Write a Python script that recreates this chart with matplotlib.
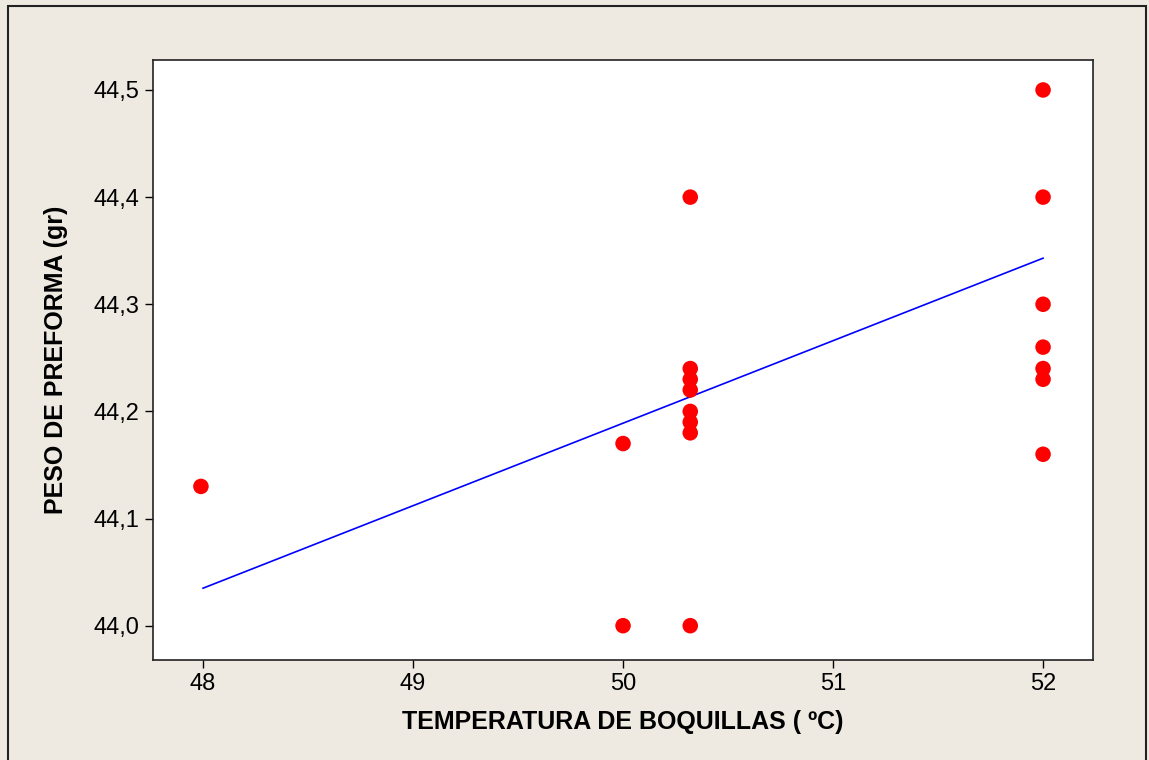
import matplotlib
matplotlib.use('Agg')
import matplotlib.pyplot as plt
from matplotlib.patches import Rectangle

# Data
temp = [47.99,
        50.0, 50.0,
        50.32, 50.32, 50.32, 50.32, 50.32, 50.32, 50.32, 50.32,
        52.0, 52.0, 52.0, 52.0, 52.0, 52.0, 52.0]
peso = [44.13,
        44.17, 44.00,
        44.40, 44.24, 44.23, 44.22, 44.20, 44.19, 44.18, 44.00,
        44.50, 44.40, 44.30, 44.26, 44.24, 44.23, 44.16]

# fitted line as drawn in the original (endpoints)
fit_x = [48.0, 52.0]
fit_y = [44.035, 44.343]

x_ticks = [48, 49, 50, 51, 52]
y_ticks = [44.0, 44.1, 44.2, 44.3, 44.4, 44.5]
y_ticklabels = ['44,0', '44,1', '44,2', '44,3', '44,4', '44,5']

bg = '#EEEAE1'
plt.rcParams['font.family'] = ['Liberation Sans', 'DejaVu Sans']

fig = plt.figure(figsize=(11.49, 7.60), dpi=100, facecolor=bg)
ax = fig.add_axes([0.1332, 0.1316, 0.8181, 0.7895])
ax.set_facecolor('white')

ax.plot(fit_x, fit_y, color='#0000FF', linewidth=1.2, zorder=2)
ax.scatter(temp, peso, s=125, color='#FF0000', edgecolors='none', zorder=3)

ax.set_xlim(47.762, 52.238)
ax.set_ylim(43.968, 44.528)
ax.set_xticks(x_ticks)
ax.set_yticks(y_ticks)
ax.set_yticklabels(y_ticklabels)
ax.tick_params(direction='out', length=6, width=1, labelsize=17, color='black')
ax.tick_params(axis='y', pad=4)

for s in ax.spines.values():
    s.set_linewidth(1.2)
    s.set_color('#222222')

ax.set_xlabel('TEMPERATURA DE BOQUILLAS ( ºC)', fontsize=18, fontweight='bold', labelpad=11)
ax.set_ylabel('PESO DE PREFORMA (gr)', fontsize=18, fontweight='bold', labelpad=18)

# outer frame (bottom edge falls outside the image)
fig.patches.append(Rectangle((8 / 1149, -0.05), (1146 - 8) / 1149, 1.05 - 6 / 760,
                             transform=fig.transFigure, fill=False,
                             edgecolor='#222222', linewidth=1.5))

fig.savefig('out.png', dpi=100, facecolor=bg)
